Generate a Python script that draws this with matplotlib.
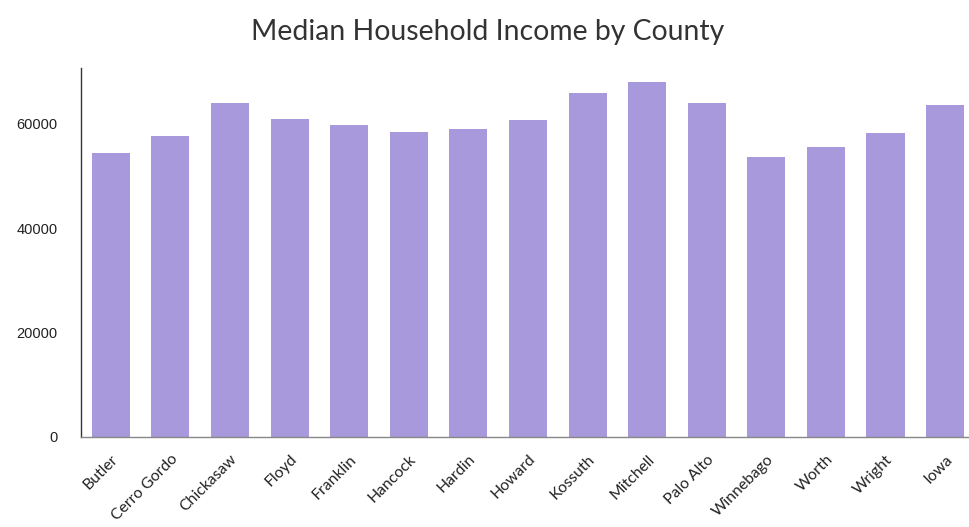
import matplotlib

matplotlib.use("Agg")
import matplotlib.pyplot as plt
import numpy as np

# Median household income per county (USD)
counties = ["Butler", "Cerro Gordo", "Chickasaw", "Floyd", "Franklin", "Hancock",
            "Hardin", "Howard", "Kossuth", "Mitchell", "Palo Alto", "Winnebago",
            "Worth", "Wright", "Iowa"]
income = [54500, 57700, 63900, 61000, 59800, 58500,
          59100, 60700, 65900, 68000, 64000, 53700,
          55600, 58200, 63700]
yticks = [0, 20000, 40000, 60000]

BAR = "#a898dc"

fig = plt.figure(figsize=(9.69, 5.27), dpi=100)
ax = fig.add_axes([0.0836, 0.1708, 0.9164, 0.7002])

x = np.arange(len(counties))
ax.bar(x, income, width=0.64, color=BAR, zorder=2)

ax.set_xlim(-0.5, 14.4)
ax.set_ylim(0, 70700)
ax.set_yticks(yticks)
ax.set_yticklabels([str(v) for v in yticks], fontsize=10.5,
                   family="Liberation Sans", color="#222")
ax.set_xticks(x)
ax.set_xticklabels(counties, rotation=45, ha="right", rotation_mode="anchor",
                   fontsize=11.3, family="Lato", color="#222")
ax.tick_params(axis="both", length=0)
ax.tick_params(axis="y", pad=17)
ax.tick_params(axis="x", pad=11)

for side in ("top", "right"):
    ax.spines[side].set_visible(False)
ax.spines["left"].set_color("#333")
ax.spines["left"].set_linewidth(1.0)
ax.spines["bottom"].set_color("#888")
ax.spines["bottom"].set_linewidth(1.0)

fig.text(0.503, 0.94, "Median Household Income by County", ha="center", va="center",
         fontsize=20.4, family="Lato", color="#333")

fig.savefig("out.png", dpi=100)
